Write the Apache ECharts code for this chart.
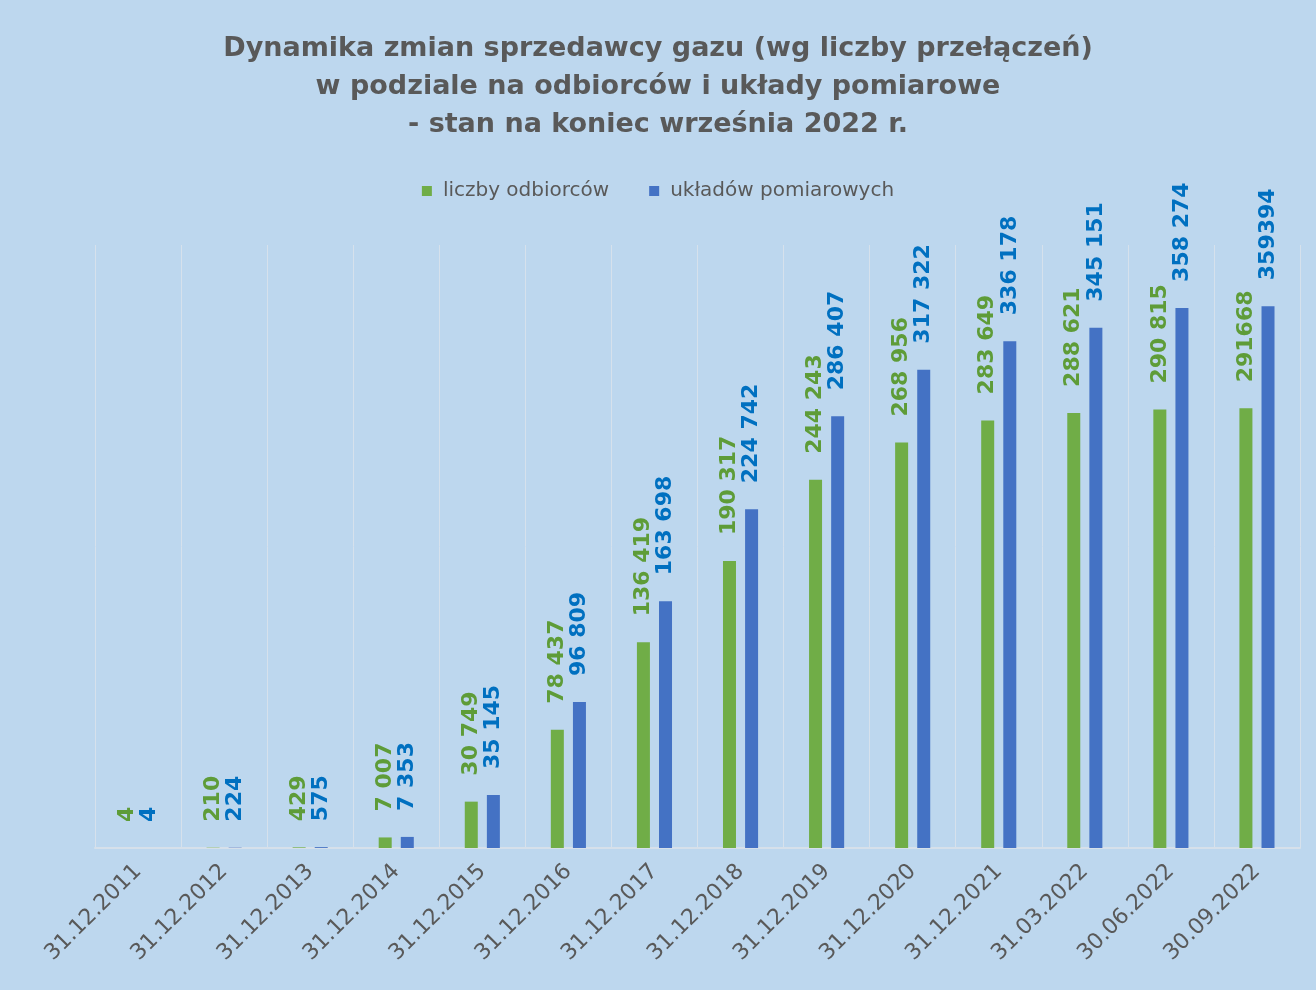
<!DOCTYPE html>
<html>
<head>
<meta charset="utf-8">
<script src="https://cdn.jsdelivr.net/npm/echarts@6/dist/echarts.min.js"></script>
<style>
  html, body { margin: 0; padding: 0; background: #BDD7EE; }
  #chart { width: 1316px; height: 990px; }
</style>
</head>
<body>
<div id="chart"></div>
<script>
// dane
const dates = ['31.12.2011', '31.12.2012', '31.12.2013', '31.12.2014', '31.12.2015', '31.12.2016', '31.12.2017',
  '31.12.2018', '31.12.2019', '31.12.2020', '31.12.2021', '31.03.2022', '30.06.2022', '30.09.2022'];
const odbiorcy = [4, 210, 429, 7007, 30749, 78437, 136419, 190317, 244243, 268956, 283649, 288621, 290815, 291668];
const uklady = [4, 224, 575, 7353, 35145, 96809, 163698, 224742, 286407, 317322, 336178, 345151, 358274, 359394];
const odbiorcyLabels = ['4', '210', '429', '7 007', '30 749', '78 437', '136 419', '190 317', '244 243', '268 956',
  '283 649', '288 621', '290 815', '291668'];
const ukladyLabels = ['4', '224', '575', '7 353', '35 145', '96 809', '163 698', '224 742', '286 407', '317 322',
  '336 178', '345 151', '358 274', '359394'];

const chart = echarts.init(document.getElementById('chart'));

const labelStyle = (color, texts) => ({
  show: true,
  position: 'top',
  distance: 26,
  rotate: 90,
  align: 'left',
  verticalAlign: 'middle',
  color: color,
  fontFamily: 'DejaVu Sans',
  fontWeight: 'bold',
  fontSize: 22,
  formatter: p => texts[p.dataIndex]
});

const option = {
  backgroundColor: '#BDD7EE',
  title: {
    text: 'Dynamika zmian sprzedawcy gazu (wg liczby przełączeń)\nw podziale na odbiorców i układy pomiarowe\n- stan na koniec września 2022 r.',
    left: 'center',
    top: 25,
    textStyle: {
      fontFamily: 'DejaVu Sans',
      fontWeight: 'bold',
      fontSize: 27,
      lineHeight: 38,
      color: '#595959'
    }
  },
  legend: {
    top: 176,
    left: 'center',
    itemWidth: 10,
    itemHeight: 10,
    itemGap: 40,
    icon: 'rect',
    textStyle: { fontFamily: 'DejaVu Sans', fontSize: 20, color: '#595959', padding: [0, 0, 0, 6] },
    data: ['liczby odbiorców', 'układów pomiarowych']
  },
  grid: { left: 95, right: 16, top: 245, bottom: 142 },
  xAxis: {
    type: 'category',
    data: dates,
    axisTick: { show: false },
    axisLine: { lineStyle: { color: '#D6E0EA', width: 2 } },
    splitLine: { show: true, lineStyle: { color: '#D6E1EC', width: 1 } },
    axisLabel: {
      rotate: 45,
      margin: 20,
      interval: 0,
      fontFamily: 'DejaVu Sans',
      fontSize: 22,
      color: '#595959'
    }
  },
  yAxis: {
    type: 'value',
    min: 0,
    max: 400000,
    show: false
  },
  series: [
    {
      name: 'liczby odbiorców',
      type: 'bar',
      data: odbiorcy,
      barWidth: 13,
      barGap: '70%',
      itemStyle: { color: '#70AD47' },
      label: labelStyle('#5E9C38', odbiorcyLabels)
    },
    {
      name: 'układów pomiarowych',
      type: 'bar',
      data: uklady,
      barWidth: 13,
      itemStyle: { color: '#4472C4' },
      label: labelStyle('#0070C0', ukladyLabels)
    }
  ]
};

chart.setOption(option);
</script>
</body>
</html>
